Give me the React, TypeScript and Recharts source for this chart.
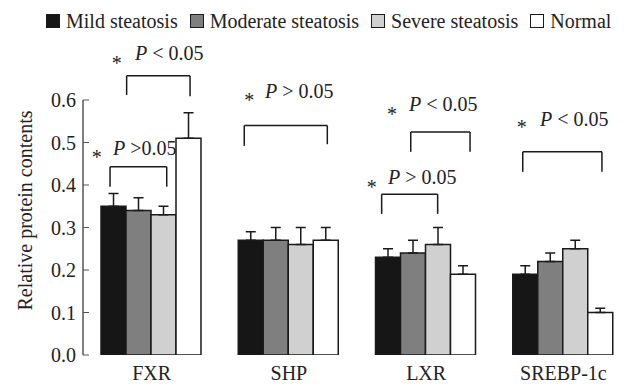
import {
  BarChart,
  Bar,
  XAxis,
  YAxis,
  ErrorBar,
  ReferenceLine,
  ReferenceDot,
} from 'recharts';

const categories = ['FXR', 'SHP', 'LXR', 'SREBP-1c'];
const mild = [0.35, 0.27, 0.23, 0.19];
const mildErr = [0.03, 0.02, 0.02, 0.02];
const moderate = [0.34, 0.27, 0.24, 0.22];
const moderateErr = [0.03, 0.03, 0.03, 0.02];
const severe = [0.33, 0.26, 0.26, 0.25];
const severeErr = [0.02, 0.04, 0.04, 0.02];
const normal = [0.51, 0.27, 0.19, 0.1];
const normalErr = [0.06, 0.03, 0.02, 0.01];
const yTicks = [0, 0.1, 0.2, 0.3, 0.4, 0.5, 0.6];
const boundaryTicks = [0, 1, 2, 3, 4];

// significance brackets, x in category units (0..4), y in data units
const bracketX1 = [0.318, 0.197, 1.175, 2.388, 2.176, 3.204];
const bracketX2 = [0.78, 0.61, 1.78, 2.82, 2.584, 3.781];
const bracketTop = [0.657, 0.443, 0.54, 0.525, 0.378, 0.478];
const bracketLeftEnd = [0.612, 0.396, 0.492, 0.478, 0.332, 0.431];
const bracketRightEnd = [0.609, 0.396, 0.496, 0.478, 0.332, 0.431];
const starX = [0.246, 0.1, 1.212, 2.251, 2.103, 3.196];
const starY = [0.692, 0.471, 0.605, 0.572, 0.4, 0.541];
const pTextX = [0.379, 0.219, 1.326, 2.375, 2.222, 3.33];
const pTextY = [0.711, 0.487, 0.622, 0.59, 0.42, 0.555];
const pText = [' < 0.05', ' >0.05', ' > 0.05', ' < 0.05', ' > 0.05', ' < 0.05'];

const SERIES = [
  { key: 'mild', name: 'Mild steatosis', color: '#161616' },
  { key: 'moderate', name: 'Moderate steatosis', color: '#7f7f7f' },
  { key: 'severe', name: 'Severe steatosis', color: '#cfd0cf' },
  { key: 'normal', name: 'Normal', color: '#ffffff' },
];

const data = categories.map((name, i) => ({
  name,
  slot: i + 0.5,
  mild: mild[i],
  mildErr: [0, mildErr[i]],
  moderate: moderate[i],
  moderateErr: [0, moderateErr[i]],
  severe: severe[i],
  severeErr: [0, severeErr[i]],
  normal: normal[i],
  normalErr: [0, normalErr[i]],
}));

const FONT = 'Liberation Serif';
const INK = '#1a1a1a';

function YLabel({ viewBox }: any) {
  const x = viewBox.x + 25;
  const y = viewBox.y + viewBox.height / 2 - 17;
  return (
    <text
      x={x}
      y={y}
      transform={`rotate(-90, ${x}, ${y})`}
      textAnchor="middle"
      dominantBaseline="central"
      fontSize={20}
      fontFamily={FONT}
      fill="#222"
    >
      Relative protein contents
    </text>
  );
}

// boundary axis only shows tick marks, no labels
function NoLabel() {
  return <g />;
}

function Legend() {
  return (
    <div
      style={{
        position: 'absolute',
        left: 46,
        top: 10,
        display: 'flex',
        alignItems: 'center',
        fontFamily: FONT,
        fontSize: 20,
        color: '#222',
        lineHeight: '22px',
      }}
    >
      {SERIES.map((s) => (
        <div key={s.key} style={{ display: 'flex', alignItems: 'center', marginRight: 12 }}>
          <span
            style={{
              display: 'inline-block',
              width: 12,
              height: 12,
              background: s.color,
              border: `1.5px solid ${INK}`,
              marginRight: 6,
            }}
          />
          <span>{s.name}</span>
        </div>
      ))}
    </div>
  );
}

export default function App() {
  return (
    <div
      style={{
        position: 'absolute',
        left: 0,
        top: 0,
        width: 638,
        height: 385,
        background: '#fff',
        fontFamily: FONT,
      }}
    >
      <Legend />
      <BarChart
        width={638}
        height={385}
        data={data}
        margin={{ top: 100, right: 6, bottom: 0, left: 0 }}
        barCategoryGap={18}
        barGap={0}
        style={{ fontFamily: FONT }}
      >
        <XAxis
          xAxisId="n"
          dataKey="slot"
          type="number"
          domain={[0, 4]}
          ticks={boundaryTicks}
          height={0}
          tick={<NoLabel />}
          tickSize={-5}
          axisLine={{ stroke: INK, strokeWidth: 1.5 }}
          tickLine={{ stroke: INK, strokeWidth: 1.2 }}
          allowDataOverflow
        />
        <XAxis
          dataKey="name"
          height={30}
          axisLine={false}
          tickLine={false}
          tickMargin={5}
          tick={{ fontSize: 20, fill: '#222', fontFamily: FONT }}
        />
        <YAxis
          width={83}
          domain={[0, 0.6]}
          ticks={yTicks}
          allowDataOverflow
          tickFormatter={(v: number) => v.toFixed(1)}
          tickSize={-6}
          tickMargin={13}
          axisLine={{ stroke: '#555', strokeWidth: 1.5 }}
          tickLine={{ stroke: '#555' }}
          tick={{ fontSize: 20, fill: '#222', fontFamily: FONT }}
          label={<YLabel />}
        />
        {SERIES.map((s) => (
          <Bar
            key={s.key}
            dataKey={s.key}
            name={s.name}
            fill={s.color}
            stroke={INK}
            strokeWidth={1.5}
            isAnimationActive={false}
          >
            <ErrorBar
              dataKey={`${s.key}Err`}
              width={5}
              stroke={INK}
              strokeWidth={1.5}
              direction="y"
            />
          </Bar>
        ))}
        {bracketX1.map((x1, i) => (
          <ReferenceLine
            key={`bt-${i}`}
            xAxisId="n"
            ifOverflow="visible"
            stroke={INK}
            strokeWidth={1.5}
            segment={[
              { x: x1, y: bracketTop[i] },
              { x: bracketX2[i], y: bracketTop[i] },
            ]}
          />
        ))}
        {bracketX1.map((x1, i) => (
          <ReferenceLine
            key={`bl-${i}`}
            xAxisId="n"
            ifOverflow="visible"
            stroke={INK}
            strokeWidth={1.5}
            segment={[
              { x: x1, y: bracketTop[i] },
              { x: x1, y: bracketLeftEnd[i] },
            ]}
          />
        ))}
        {bracketX2.map((x2, i) => (
          <ReferenceLine
            key={`br-${i}`}
            xAxisId="n"
            ifOverflow="visible"
            stroke={INK}
            strokeWidth={1.5}
            segment={[
              { x: x2, y: bracketTop[i] },
              { x: x2, y: bracketRightEnd[i] },
            ]}
          />
        ))}
        {starX.map((x, i) => (
          <ReferenceDot
            key={`st-${i}`}
            xAxisId="n"
            x={x}
            y={starY[i]}
            r={0}
            ifOverflow="visible"
            shape={(p: any) => (
              <text
                x={p.cx}
                y={p.cy + 9}
                textAnchor="middle"
                fontSize={20}
                fontFamily={FONT}
                fill="#222"
              >
                *
              </text>
            )}
          />
        ))}
        {pTextX.map((x, i) => (
          <ReferenceDot
            key={`pt-${i}`}
            xAxisId="n"
            x={x}
            y={pTextY[i]}
            r={0}
            ifOverflow="visible"
            shape={(p: any) => (
              <text
                x={p.cx}
                y={p.cy + 7}
                textAnchor="start"
                fontSize={20}
                fontFamily={FONT}
                fill="#222"
              >
                <tspan fontStyle="italic">P</tspan>
                <tspan>{pText[i]}</tspan>
              </text>
            )}
          />
        ))}
      </BarChart>
    </div>
  );
}
